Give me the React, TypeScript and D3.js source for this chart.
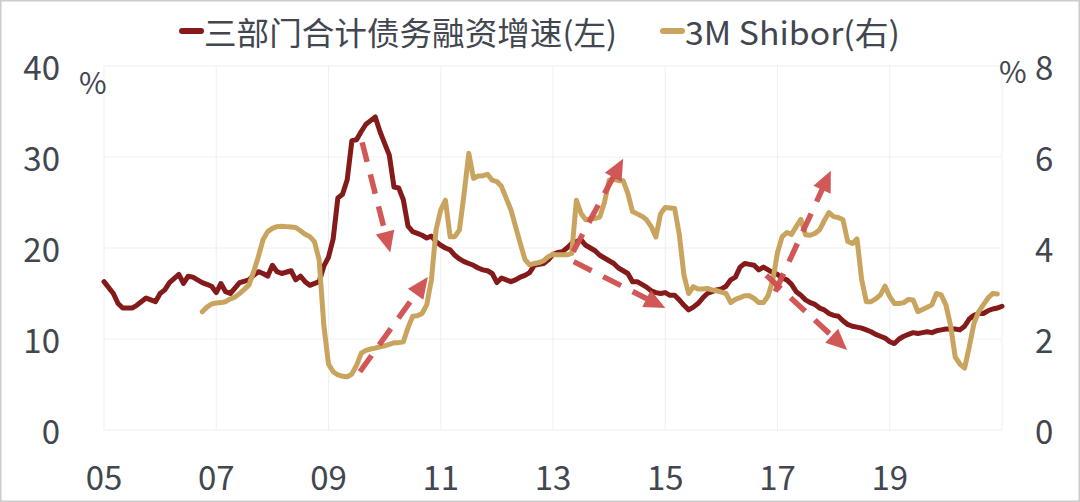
import React from "react";
import * as d3 from "d3";

// ---------- DATA ----------
const legendLabels = ["三部门合计债务融资增速(左)", "3M Shibor(右)"];
const xTickYears = [2005, 2007, 2009, 2011, 2013, 2015, 2017, 2019];
const xTickLabels = ["05", "07", "09", "11", "13", "15", "17", "19"];
const leftTicks = [0, 10, 20, 30, 40];
const rightTicks = [0, 2, 4, 6, 8];

// 三部门合计债务融资增速 (%), left axis
const debtGrowth: [string, number][] = [
  ["2005-01", 16.3], ["2005-03", 15.0], ["2005-04", 13.9], ["2005-05", 13.4], ["2005-07", 13.4],
  ["2005-08", 13.7], ["2005-10", 14.5], ["2005-11", 14.3], ["2005-12", 14.1], ["2006-01", 15.0],
  ["2006-02", 15.4], ["2006-03", 16.2], ["2006-05", 17.1], ["2006-06", 16.1], ["2006-07", 16.9],
  ["2006-08", 16.8], ["2006-10", 16.2], ["2006-11", 16.0], ["2006-12", 15.8], ["2007-01", 15.1],
  ["2007-02", 16.1], ["2007-03", 15.2], ["2007-04", 15.0], ["2007-05", 15.6], ["2007-06", 16.2],
  ["2007-08", 16.5], ["2007-09", 17.0], ["2007-10", 17.4], ["2007-11", 17.2], ["2007-12", 16.9],
  ["2008-01", 18.1], ["2008-02", 17.4], ["2008-03", 17.2], ["2008-05", 17.5], ["2008-06", 16.5],
  ["2008-07", 16.9], ["2008-08", 16.3], ["2008-09", 15.9], ["2008-11", 16.3], ["2008-12", 18.0],
  ["2009-01", 19.0], ["2009-02", 21.0], ["2009-03", 25.5], ["2009-04", 25.9], ["2009-05", 27.5],
  ["2009-06", 31.8], ["2009-07", 31.9], ["2009-08", 32.8], ["2009-09", 33.6], ["2009-10", 34.0],
  ["2009-11", 34.4], ["2009-12", 32.8], ["2010-01", 31.5], ["2010-02", 30.2], ["2010-03", 26.7],
  ["2010-04", 26.6], ["2010-05", 25.3], ["2010-06", 22.4], ["2010-07", 21.8], ["2010-08", 21.6],
  ["2010-09", 21.4], ["2010-10", 21.1], ["2010-11", 21.3], ["2010-12", 20.7], ["2011-01", 20.3],
  ["2011-02", 20.0], ["2011-03", 19.8], ["2011-04", 19.2], ["2011-05", 18.8], ["2011-06", 18.5],
  ["2011-07", 18.3], ["2011-08", 18.1], ["2011-09", 17.8], ["2011-10", 17.6], ["2011-11", 17.5],
  ["2011-12", 17.2], ["2012-01", 16.2], ["2012-02", 16.7], ["2012-03", 16.5], ["2012-04", 16.3],
  ["2012-05", 16.5], ["2012-06", 16.8], ["2012-07", 17.0], ["2012-08", 17.3], ["2012-09", 18.1],
  ["2012-10", 18.2], ["2012-11", 18.3], ["2012-12", 18.7], ["2013-01", 19.3], ["2013-02", 19.5],
  ["2013-03", 19.6], ["2013-04", 20.0], ["2013-05", 20.5], ["2013-06", 20.7], ["2013-07", 20.9],
  ["2013-08", 20.3], ["2013-09", 20.0], ["2013-10", 19.7], ["2013-11", 19.2], ["2013-12", 18.9],
  ["2014-01", 18.6], ["2014-02", 18.3], ["2014-03", 17.8], ["2014-04", 17.5], ["2014-05", 17.2],
  ["2014-06", 16.3], ["2014-07", 16.3], ["2014-08", 16.0], ["2014-09", 15.7], ["2014-10", 15.3],
  ["2014-11", 15.1], ["2014-12", 15.0], ["2015-01", 15.1], ["2015-02", 14.8], ["2015-03", 14.8],
  ["2015-04", 14.3], ["2015-05", 13.7], ["2015-06", 13.2], ["2015-07", 13.5], ["2015-08", 13.9],
  ["2015-09", 14.5], ["2015-10", 15.0], ["2015-11", 15.2], ["2015-12", 15.4], ["2016-01", 15.5],
  ["2016-02", 15.8], ["2016-03", 16.5], ["2016-04", 16.8], ["2016-05", 17.9], ["2016-06", 18.3],
  ["2016-07", 18.2], ["2016-08", 18.1], ["2016-09", 17.6], ["2016-10", 17.9], ["2016-11", 17.6],
  ["2016-12", 17.3], ["2017-01", 17.1], ["2017-02", 16.7], ["2017-03", 16.5], ["2017-04", 16.0],
  ["2017-05", 15.2], ["2017-06", 14.8], ["2017-07", 14.3], ["2017-08", 14.0], ["2017-09", 13.8],
  ["2017-10", 13.4], ["2017-11", 13.2], ["2017-12", 12.8], ["2018-01", 12.6], ["2018-02", 12.5],
  ["2018-03", 12.0], ["2018-04", 11.6], ["2018-05", 11.4], ["2018-06", 11.3], ["2018-07", 11.2],
  ["2018-08", 11.0], ["2018-09", 10.8], ["2018-10", 10.5], ["2018-11", 10.3], ["2018-12", 10.1],
  ["2019-01", 9.7], ["2019-02", 9.5], ["2019-03", 10.0], ["2019-04", 10.3], ["2019-05", 10.5],
  ["2019-06", 10.7], ["2019-07", 10.6], ["2019-08", 10.7], ["2019-09", 10.8], ["2019-10", 10.7],
  ["2019-11", 10.9], ["2019-12", 11.0], ["2020-01", 11.1], ["2020-02", 11.1], ["2020-03", 11.1],
  ["2020-04", 11.0], ["2020-05", 11.4], ["2020-06", 12.2], ["2020-07", 12.6], ["2020-08", 12.8],
  ["2020-09", 12.8], ["2020-10", 13.1], ["2020-11", 13.3], ["2020-12", 13.4], ["2021-01", 13.6],
];

// 3M Shibor (%), right axis
const shibor3M: [string, number][] = [
  ["2006-10", 2.60], ["2006-11", 2.70], ["2006-12", 2.77], ["2007-01", 2.79], ["2007-02", 2.80],
  ["2007-03", 2.82], ["2007-04", 2.88], ["2007-05", 2.92], ["2007-06", 3.00], ["2007-07", 3.09],
  ["2007-08", 3.19], ["2007-09", 3.48], ["2007-10", 3.81], ["2007-11", 4.18], ["2007-12", 4.36],
  ["2008-01", 4.43], ["2008-02", 4.47], ["2008-03", 4.48], ["2008-04", 4.47], ["2008-05", 4.46],
  ["2008-06", 4.45], ["2008-07", 4.38], ["2008-08", 4.30], ["2008-09", 4.25], ["2008-10", 4.14],
  ["2008-11", 3.74], ["2008-12", 2.30], ["2009-01", 1.45], ["2009-02", 1.28], ["2009-03", 1.21],
  ["2009-04", 1.18], ["2009-05", 1.17], ["2009-06", 1.23], ["2009-07", 1.42], ["2009-08", 1.69],
  ["2009-09", 1.75], ["2009-10", 1.78], ["2009-11", 1.80], ["2009-12", 1.83], ["2010-01", 1.85],
  ["2010-02", 1.88], ["2010-03", 1.92], ["2010-04", 1.92], ["2010-05", 1.94], ["2010-06", 2.25],
  ["2010-07", 2.50], ["2010-08", 2.51], ["2010-09", 2.56], ["2010-10", 2.75], ["2010-11", 3.30],
  ["2010-12", 4.40], ["2011-01", 4.84], ["2011-02", 5.05], ["2011-03", 4.25], ["2011-04", 4.25],
  ["2011-05", 4.40], ["2011-06", 5.20], ["2011-07", 6.08], ["2011-08", 5.53], ["2011-09", 5.58],
  ["2011-10", 5.59], ["2011-11", 5.62], ["2011-12", 5.49], ["2012-01", 5.46], ["2012-02", 5.35],
  ["2012-03", 5.09], ["2012-04", 4.84], ["2012-05", 4.47], ["2012-06", 4.10], ["2012-07", 3.75],
  ["2012-08", 3.63], ["2012-09", 3.66], ["2012-10", 3.68], ["2012-11", 3.72], ["2012-12", 3.81],
  ["2013-01", 3.86], ["2013-02", 3.85], ["2013-03", 3.85], ["2013-04", 3.85], ["2013-05", 3.88],
  ["2013-06", 5.05], ["2013-07", 4.76], ["2013-08", 4.62], ["2013-09", 4.64], ["2013-10", 4.65],
  ["2013-11", 4.68], ["2013-12", 5.00], ["2014-01", 5.49], ["2014-02", 5.51], ["2014-03", 5.48],
  ["2014-04", 5.48], ["2014-05", 5.20], ["2014-06", 4.80], ["2014-07", 4.75], ["2014-08", 4.70],
  ["2014-09", 4.62], ["2014-10", 4.47], ["2014-11", 4.24], ["2014-12", 4.75], ["2015-01", 4.89],
  ["2015-02", 4.88], ["2015-03", 4.87], ["2015-04", 4.30], ["2015-05", 3.40], ["2015-06", 3.00],
  ["2015-07", 3.15], ["2015-08", 3.10], ["2015-09", 3.10], ["2015-10", 3.11], ["2015-11", 3.08],
  ["2015-12", 3.06], ["2016-01", 3.03], ["2016-02", 3.00], ["2016-03", 2.80], ["2016-04", 2.87],
  ["2016-05", 2.91], ["2016-06", 2.95], ["2016-07", 2.95], ["2016-08", 2.89], ["2016-09", 2.80],
  ["2016-10", 2.80], ["2016-11", 2.95], ["2016-12", 3.30], ["2017-01", 3.90], ["2017-02", 4.25],
  ["2017-03", 4.34], ["2017-04", 4.30], ["2017-05", 4.47], ["2017-06", 4.63], ["2017-07", 4.29],
  ["2017-08", 4.28], ["2017-09", 4.32], ["2017-10", 4.40], ["2017-11", 4.60], ["2017-12", 4.78],
  ["2018-01", 4.69], ["2018-02", 4.67], ["2018-03", 4.62], ["2018-04", 4.15], ["2018-05", 4.10],
  ["2018-06", 4.20], ["2018-07", 3.30], ["2018-08", 2.82], ["2018-09", 2.82], ["2018-10", 2.88],
  ["2018-11", 2.97], ["2018-12", 3.16], ["2019-01", 2.93], ["2019-02", 2.78], ["2019-03", 2.78],
  ["2019-04", 2.80], ["2019-05", 2.87], ["2019-06", 2.86], ["2019-07", 2.60], ["2019-08", 2.65],
  ["2019-09", 2.70], ["2019-10", 2.75], ["2019-11", 3.00], ["2019-12", 2.97], ["2020-01", 2.75],
  ["2020-02", 2.30], ["2020-03", 1.60], ["2020-04", 1.45], ["2020-05", 1.36], ["2020-06", 1.83],
  ["2020-07", 2.34], ["2020-08", 2.60], ["2020-09", 2.75], ["2020-10", 2.90], ["2020-11", 3.00],
  ["2020-12", 2.99],
];

// Annotation arrows: [decimal year, left-axis value] start -> tip
const arrowStarts: [number, number][] = [
  [2009.6, 31.6], [2009.56, 6.4], [2013.36, 19.6], [2013.37, 18.5], [2016.96, 15.2], [2016.8, 17.0],
];
const arrowTips: [number, number][] = [
  [2010.1, 19.5], [2010.77, 16.8], [2014.25, 29.8], [2015.0, 13.4], [2017.95, 28.5], [2018.24, 8.8],
];

// ---------- CHART ----------
const W = 1080;
const H = 502;
const FONT = "'Noto Sans CJK SC', 'Noto Sans', sans-serif";
const TEXT = "#41464f";
const RED = "#841a1a";
const GOLD = "#c8a45f";
const ARROW = "#d05050";

const toYear = (s: string) => {
  const [y, m] = s.split("-").map(Number);
  return y + (m - 1) / 12;
};

export default function App() {
  const x = d3.scaleLinear().domain([2005, 2021]).range([104, 1002]);
  const yL = d3.scaleLinear().domain([0, 40]).range([430, 66]);
  const yR = d3.scaleLinear().domain([0, 8]).range([430, 66]);

  const lineL = d3
    .line<[string, number]>()
    .x((d) => x(toYear(d[0])))
    .y((d) => yL(d[1]))
    .curve(d3.curveLinear);
  const lineR = d3
    .line<[string, number]>()
    .x((d) => x(toYear(d[0])))
    .y((d) => yR(d[1]))
    .curve(d3.curveLinear);

  const vGrid = [...xTickYears, 2021];
  const headLen = 21;
  const headHalf = 9.5;

  return (
    <svg
      width={W}
      height={H}
      style={{ position: "absolute", left: 0, top: 0, background: "#fff" }}
      fontFamily={FONT}
    >
      <rect x={0.75} y={0.75} width={W - 1.5} height={H - 1.5} fill="#fff" stroke="#cccccc" strokeWidth={1.5} />

      {/* grid */}
      {leftTicks.map((t) => (
        <line key={"h" + t} x1={x(2005)} x2={x(2021)} y1={yL(t)} y2={yL(t)} stroke="#efefef" strokeWidth={1} />
      ))}
      {vGrid.map((t) => (
        <line key={"v" + t} x1={x(t)} x2={x(t)} y1={yL(0)} y2={yL(40)} stroke="#efefef" strokeWidth={1} />
      ))}

      {/* left axis */}
      {leftTicks.map((t) => (
        <text key={"l" + t} x={60} y={yL(t)} textAnchor="end" dominantBaseline="central" fontSize={33} fill={TEXT}>
          {t}
        </text>
      ))}
      <text x={79} y={81} dominantBaseline="central" fontSize={30} fill={TEXT}>%</text>

      {/* right axis */}
      {rightTicks.map((t) => (
        <text key={"r" + t} x={1035} y={yR(t)} textAnchor="start" dominantBaseline="central" fontSize={33} fill={TEXT}>
          {t}
        </text>
      ))}
      <text x={999} y={70} dominantBaseline="central" fontSize={30} fill={TEXT}>%</text>

      {/* x axis labels */}
      {xTickYears.map((t, i) => (
        <text key={"x" + t} x={x(t)} y={476} textAnchor="middle" dominantBaseline="central" fontSize={33} fill={TEXT}>
          {xTickLabels[i]}
        </text>
      ))}

      {/* series */}
      <path d={lineL(debtGrowth) || ""} fill="none" stroke={RED} strokeWidth={5} strokeLinejoin="round" strokeLinecap="round" />
      <path d={lineR(shibor3M) || ""} fill="none" stroke={GOLD} strokeWidth={5} strokeLinejoin="round" strokeLinecap="round" />

      {/* arrows */}
      {arrowStarts.map((s, i) => {
        const x0 = x(s[0]);
        const y0 = yL(s[1]);
        const x1 = x(arrowTips[i][0]);
        const y1 = yL(arrowTips[i][1]);
        const dx = x1 - x0;
        const dy = y1 - y0;
        const len = Math.hypot(dx, dy);
        const ux = dx / len;
        const uy = dy / len;
        const bx = x1 - ux * headLen;
        const by = y1 - uy * headLen;
        const px = -uy;
        const py = ux;
        const head = [
          [x1, y1],
          [bx + px * headHalf, by + py * headHalf],
          [bx - px * headHalf, by - py * headHalf],
        ]
          .map((p) => p.join(","))
          .join(" ");
        return (
          <g key={"a" + i} opacity={0.95}>
            <line x1={x0} y1={y0} x2={bx + ux * 2} y2={by + uy * 2} stroke={ARROW} strokeWidth={5.5} strokeDasharray="20 13" />
            <polygon points={head} fill={ARROW} />
          </g>
        );
      })}

      {/* legend */}
      <line x1={182} x2={201} y1={31} y2={31} stroke={RED} strokeWidth={6} strokeLinecap="round" />
      <text x={204} y={31} dominantBaseline="central" fontSize={32} fill={TEXT} textLength={413} lengthAdjust="spacingAndGlyphs">
        {legendLabels[0]}
      </text>
      <line x1={663} x2={682} y1={31} y2={31} stroke={GOLD} strokeWidth={6} strokeLinecap="round" />
      <text x={685} y={31} dominantBaseline="central" fontSize={32} fill={TEXT} textLength={215} lengthAdjust="spacingAndGlyphs">
        {legendLabels[1]}
      </text>
    </svg>
  );
}
